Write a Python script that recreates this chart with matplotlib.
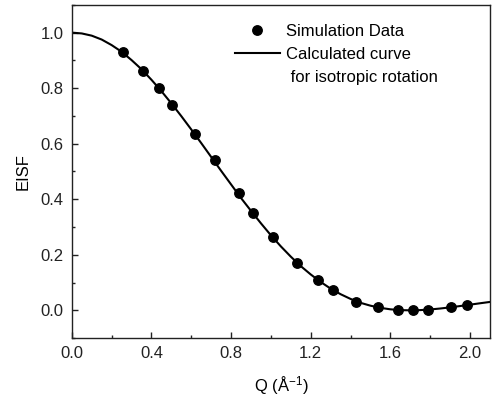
import matplotlib
matplotlib.use("Agg")
import matplotlib.pyplot as plt
from matplotlib.lines import Line2D
from matplotlib.ticker import MultipleLocator

plt.rcParams['font.family'] = ['Liberation Sans', 'DejaVu Sans']
plt.rcParams['mathtext.default'] = 'regular'

# Simulation data points
sim_q = [0.255, 0.358, 0.439, 0.504, 0.621, 0.717, 0.838, 0.911, 1.012,
         1.132, 1.238, 1.313, 1.427, 1.536, 1.638, 1.712, 1.786, 1.906, 1.986]
sim_eisf = [0.929, 0.861, 0.802, 0.741, 0.634, 0.540, 0.422, 0.350, 0.264,
            0.171, 0.109, 0.075, 0.031, 0.013, 0.003, 0.000, 0.000, 0.013, 0.020]

# Calculated curve for isotropic rotation
curve_q = [0.00, 0.05, 0.10, 0.15, 0.20, 0.25, 0.30, 0.35, 0.40, 0.45,
           0.50, 0.55, 0.60, 0.65, 0.70, 0.75, 0.80, 0.85, 0.90, 0.95,
           1.00, 1.05, 1.10, 1.15, 1.20, 1.25, 1.30, 1.35, 1.40, 1.45,
           1.50, 1.55, 1.60, 1.65, 1.70, 1.75, 1.80, 1.85, 1.90, 1.95,
           2.00, 2.05, 2.10]
curve_eisf = [1.000, 0.997, 0.989, 0.975, 0.955, 0.931, 0.901, 0.868, 0.830, 0.789,
              0.745, 0.699, 0.651, 0.602, 0.552, 0.502, 0.453, 0.404, 0.358, 0.313,
              0.270, 0.230, 0.193, 0.159, 0.129, 0.102, 0.078, 0.058, 0.041, 0.027,
              0.0167, 0.0089, 0.0037, 0.0008, 0.0000, 0.0009, 0.0032, 0.0066, 0.0108, 0.0155,
              0.0205, 0.0255, 0.0303]

fig = plt.figure(figsize=(4.92, 4.03), dpi=100)
ax = fig.add_axes([0.146, 0.161, 0.850, 0.827])

ax.plot(curve_q, curve_eisf, color='black', lw=1.5, zorder=2)
ax.plot(sim_q, sim_eisf, 'o', color='black', ms=6.8, zorder=3)

ax.set_xlim(0, 2.1)
ax.set_ylim(-0.1, 1.1)
ax.xaxis.set_major_locator(MultipleLocator(0.4))
ax.xaxis.set_minor_locator(MultipleLocator(0.2))
ax.yaxis.set_major_locator(MultipleLocator(0.2))
ax.yaxis.set_minor_locator(MultipleLocator(0.1))
ax.tick_params(which='both', direction='in', top=False, right=False,
               labelsize=12, width=1.0, colors='#222222')
ax.tick_params(which='major', length=4.5, pad=6)
ax.tick_params(which='minor', length=2.5)
for s in ax.spines.values():
    s.set_linewidth(1.0)
    s.set_color('#222222')

ax.set_xlabel('Q (Å$^{-1}$)', fontsize=12, labelpad=9)
ax.set_ylabel('EISF', fontsize=12, labelpad=7)

handles = [
    Line2D([], [], marker='o', ls='none', color='black', ms=6.8),
    Line2D([], [], color='black', lw=1.5),
    Line2D([], [], ls='none'),
]
labels = ['Simulation Data', 'Calculated curve', ' for isotropic rotation']
ax.legend(handles, labels, loc='upper left', bbox_to_anchor=(0.39, 0.943),
          frameon=False, fontsize=12, handlelength=2.7, handletextpad=0.36,
          labelspacing=0.5, borderpad=0, borderaxespad=0)

fig.savefig('out.png', dpi=100)
